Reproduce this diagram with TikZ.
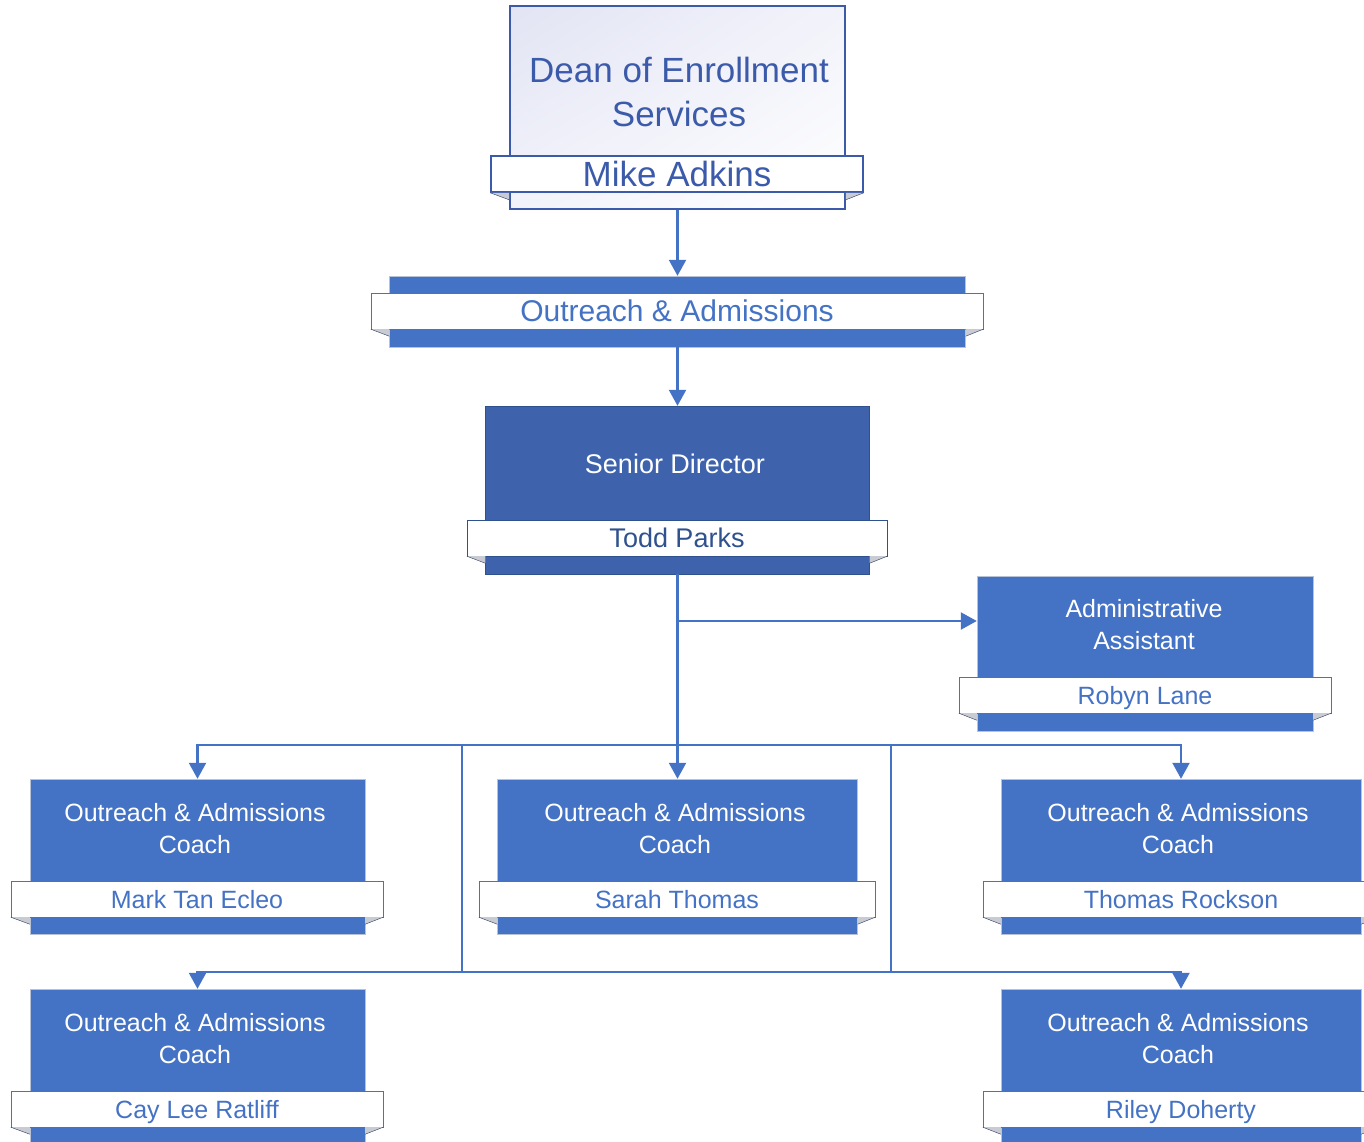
\documentclass[tikz,border=0pt]{standalone}
\usepackage{fontspec}
\setmainfont{Liberation Sans}
\usetikzlibrary{arrows.meta,shadings}

\begin{document}
\begin{tikzpicture}[x=1pt, y=-1pt, thick]

  % Define Colors
  \definecolor{boxblue}{RGB}{68,114,196}
  \definecolor{darkblue}{RGB}{62,99,172}
  \definecolor{deepblue}{RGB}{47,82,143}
  \definecolor{deantext}{RGB}{59,91,170}
  \definecolor{edgegray}{RGB}{184,194,214}
  \definecolor{foldgray}{RGB}{200,203,210}
  \definecolor{foldline}{RGB}{40,55,95}
  \definecolor{lavend}{RGB}{226,228,244}
  \definecolor{lavendl}{RGB}{242,243,250}

  % Node styles
  \tikzstyle{cbox}=[rectangle, draw=edgegray, thin, fill=boxblue, inner sep=0pt]
  \tikzstyle{sbox}=[rectangle, draw=deepblue, thin, fill=darkblue, inner sep=0pt]
  \tikzstyle{dbox}=[rectangle, draw=deantext, line width=1.6pt, inner sep=0pt,
    upper left=lavend, upper right=lavendl, lower left=lavendl, lower right=white]
  \tikzstyle{ctitle}=[align=center, text=white, inner sep=0pt, font=\fontsize{25}{32}\selectfont]
  \tikzstyle{nbar}=[rectangle, draw=boxblue, thin, fill=white, inner sep=0pt,
    minimum height=36, text height=18, text depth=0, text=boxblue,
    font=\fontsize{25}{30}\selectfont]

  \tikzstyle{wire}=[line width=2.2pt, boxblue]
  \tikzstyle{link}=[line width=2.2pt, boxblue, -{Triangle[length=16pt,width=17pt]}]
  \tikzstyle{fold}=[thin, foldline]

  \useasboundingbox (0,0) rectangle (1364,1142);

  % Nodes
  \node[dbox, minimum width=335, minimum height=203] (dean) at (677.5,107.5) {};
  \node[align=center, text=deantext, inner sep=0pt, font=\fontsize{35}{44}\selectfont] (dean_t) at (679,91.5) {Dean of Enrollment\\Services};

  \node[cbox, minimum width=576, minimum height=71] (oa) at (677.5,311.5) {};

  \node[sbox, minimum width=384, minimum height=168] (sd) at (677.5,490) {};
  \node[ctitle, font=\fontsize{27}{32}\selectfont] (sd_t) at (675,464) {Senior Director};

  \node[cbox, minimum width=336, minimum height=155] (admin) at (1145,653.5) {};
  \node[ctitle] (admin_t) at (1144,625) {Administrative\\Assistant};

  \node[cbox, minimum width=335, minimum height=155] (mark) at (197.5,856.5) {};
  \node[ctitle] (mark_t) at (195,829) {Outreach \& Admissions\\Coach};
  \node[cbox, minimum width=360, minimum height=155] (sarah) at (677.5,856.5) {};
  \node[ctitle] (sarah_t) at (675,829) {Outreach \& Admissions\\Coach};
  \node[cbox, minimum width=360, minimum height=155] (thomas) at (1181,856.5) {};
  \node[ctitle] (thomas_t) at (1178,829) {Outreach \& Admissions\\Coach};

  \node[cbox, minimum width=335, minimum height=155] (cay) at (197.5,1066.5) {};
  \node[ctitle] (cay_t) at (195,1039) {Outreach \& Admissions\\Coach};
  \node[cbox, minimum width=360, minimum height=155] (riley) at (1181,1066.5) {};
  \node[ctitle] (riley_t) at (1178,1039) {Outreach \& Admissions\\Coach};

  % Name bars
  \node[nbar, draw=deantext, line width=1.6pt, minimum width=372, text height=25, text=deantext, font=\fontsize{35}{40}\selectfont] (dean_n) at (677,174) {Mike Adkins};
  \node[nbar, minimum width=612, text height=21.5, font=\fontsize{30}{36}\selectfont] (oa_n) at (677,311) {Outreach \& Admissions};
  \node[nbar, draw=deepblue, minimum width=420, text height=19.5, text=deepblue, font=\fontsize{27}{32}\selectfont] (sd_n) at (677,538) {Todd Parks};
  \node[nbar, minimum width=372] (admin_n) at (1145,695) {Robyn Lane};
  \node[nbar, minimum width=372] (mark_n) at (197,899) {Mark Tan Ecleo};
  \node[nbar, minimum width=396] (sarah_n) at (677,899) {Sarah Thomas};
  \node[nbar, minimum width=396] (thomas_n) at (1181,899) {Thomas Rockson};
  \node[nbar, minimum width=372] (cay_n) at (197,1109) {Cay Lee Ratliff};
  \node[nbar, minimum width=396] (riley_n) at (1181,1109) {Riley Doherty};

  % Folded ribbon ends
  \foreach \bx/\nb in {dean/dean_n, oa/oa_n, sd/sd_n, admin/admin_n, mark/mark_n,
                       sarah/sarah_n, thomas/thomas_n, cay/cay_n, riley/riley_n}{
    \fill[foldgray] (\nb.south west) -- (\nb.south west -| \bx.west) -- ++(0,7) coordinate (fl) -- cycle;
    \draw[fold] (\nb.south west) -- (fl);
    \fill[foldgray] (\nb.south east) -- (\nb.south east -| \bx.east) -- ++(0,7) coordinate (fr) -- cycle;
    \draw[fold] (\nb.south east) -- (fr);
  }

  % Links
  \coordinate (bus_c) at (677.5,745);
  \coordinate (bus_l) at (462,745);
  \coordinate (bus_r) at (891,745);
  \coordinate (aa_in) at ([yshift=32.5pt]admin.west);

  \draw[link] (dean.south) -- (oa.north);
  \draw[link] (oa.south) -- (sd.north);
  \draw[wire] (sd.south) -- (bus_c);
  \draw[link] (sd.south |- aa_in) -- (aa_in);

  \draw[link] (bus_c) -| (mark.north);
  \draw[link] (bus_c) -- (sarah.north);
  \draw[link] (bus_c) -| (thomas.north);

  \draw[link] (bus_l) -- ++(0,227) -| (riley.north);
  \draw[link] (bus_r) -- ++(0,227) -| (cay.north);

\end{tikzpicture}
\end{document}
